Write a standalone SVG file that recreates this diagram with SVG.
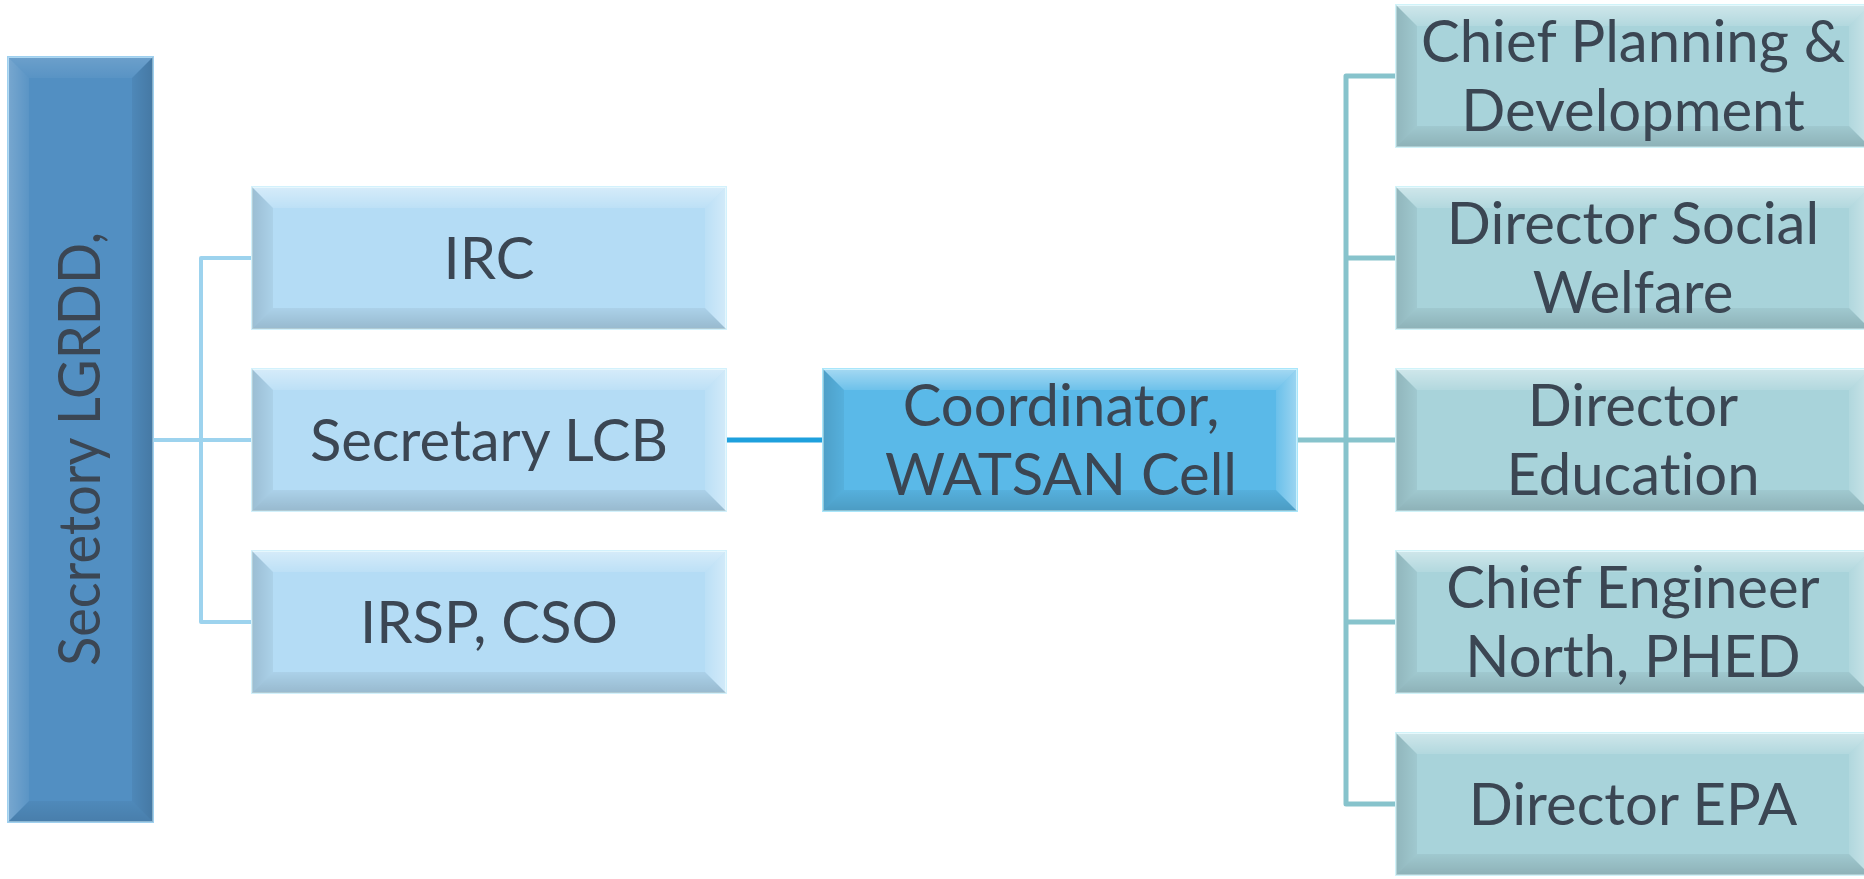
<svg xmlns="http://www.w3.org/2000/svg" width="1864" height="879" viewBox="0 0 1864 879">
<defs>
<linearGradient id="gT" x1="0" y1="0" x2="0" y2="1"><stop offset="0" stop-color="#fff" stop-opacity="0.45"/><stop offset="1" stop-color="#fff" stop-opacity="0.12"/></linearGradient>
<linearGradient id="gR" x1="1" y1="0" x2="0" y2="0"><stop offset="0" stop-color="#fff" stop-opacity="0.4"/><stop offset="1" stop-color="#fff" stop-opacity="0.1"/></linearGradient>
<linearGradient id="gL" x1="0" y1="0" x2="1" y2="0"><stop offset="0" stop-color="#000" stop-opacity="0.14"/><stop offset="1" stop-color="#000" stop-opacity="0.05"/></linearGradient>
<linearGradient id="gB" x1="0" y1="1" x2="0" y2="0"><stop offset="0" stop-color="#000" stop-opacity="0.16"/><stop offset="1" stop-color="#000" stop-opacity="0.05"/></linearGradient>
<linearGradient id="sL" x1="0" y1="0" x2="1" y2="0"><stop offset="0" stop-color="#fff" stop-opacity="0.22"/><stop offset="1" stop-color="#fff" stop-opacity="0.05"/></linearGradient>
<linearGradient id="sT" x1="0" y1="0" x2="0" y2="1"><stop offset="0" stop-color="#fff" stop-opacity="0.15"/><stop offset="1" stop-color="#fff" stop-opacity="0.04"/></linearGradient>
<linearGradient id="sR" x1="1" y1="0" x2="0" y2="0"><stop offset="0" stop-color="#000" stop-opacity="0.16"/><stop offset="1" stop-color="#000" stop-opacity="0.05"/></linearGradient>
<linearGradient id="sB" x1="0" y1="1" x2="0" y2="0"><stop offset="0" stop-color="#000" stop-opacity="0.12"/><stop offset="1" stop-color="#000" stop-opacity="0.04"/></linearGradient>
</defs>
<style>
text{font-family:Lato,"Open Sans",sans-serif;font-size:58px;fill:#3b4653;text-anchor:middle;font-variant-ligatures:none;font-feature-settings:"liga" 0,"dlig" 0}
.sec{fill:#528fc2;stroke:#9fd0ef;stroke-width:2}
.lt{fill:#b4dcf5;stroke:#d2f1fc;stroke-width:2}
.co{fill:#5ab9e8;stroke:#a8e6fb;stroke-width:2}
.rt{fill:#a8d3da;stroke:#d0f3f9;stroke-width:2}
.cl{fill:none;stroke:#9dd3ee;stroke-width:4;stroke-linejoin:round}
.cm{fill:none;stroke:#1ea0dd;stroke-width:5}
.cr{fill:none;stroke:#87c3cc;stroke-width:5;stroke-linejoin:round}
</style>
<g id="connectors">
<path class="cl" d="M153 440 H252 M252 258 H201 V622 H252"/>
<path class="cm" d="M725 440 H823"/>
<path class="cr" d="M1297 440 H1396 M1396 76 H1346 V804 H1396 M1346 258 H1396 M1346 622 H1396"/>
</g>
<g id="secretary-lgrdd">
<rect class="sec" x="8" y="57" width="145" height="765"/>
<polygon fill="url(#sT)" points="8,57 153,57 132,78 29,78"/>
<polygon fill="url(#sL)" points="8,57 29,78 29,801 8,822"/>
<polygon fill="url(#sR)" points="153,57 153,822 132,801 132,78"/>
<polygon fill="url(#sB)" points="8,822 29,801 132,801 153,822"/>
<text transform="translate(100,449) rotate(-90)" textLength="434" lengthAdjust="spacingAndGlyphs">Secretory LGRDD,</text>
</g>
<g id="irc">
<rect class="lt" x="252" y="187" width="474" height="142"/>
<polygon fill="url(#gT)" points="252,187 726,187 705,208 273,208"/>
<polygon fill="url(#gL)" points="252,187 273,208 273,308 252,329"/>
<polygon fill="url(#gR)" points="726,187 726,329 705,308 705,208"/>
<polygon fill="url(#gB)" points="252,329 273,308 705,308 726,329"/>
<text x="489" y="279">IRC</text>
</g>
<g id="secretary-lcb">
<rect class="lt" x="252" y="369" width="474" height="142"/>
<polygon fill="url(#gT)" points="252,369 726,369 705,390 273,390"/>
<polygon fill="url(#gL)" points="252,369 273,390 273,490 252,511"/>
<polygon fill="url(#gR)" points="726,369 726,511 705,490 705,390"/>
<polygon fill="url(#gB)" points="252,511 273,490 705,490 726,511"/>
<text x="489" y="461">Secretary LCB</text>
</g>
<g id="irsp-cso">
<rect class="lt" x="252" y="551" width="474" height="142"/>
<polygon fill="url(#gT)" points="252,551 726,551 705,572 273,572"/>
<polygon fill="url(#gL)" points="252,551 273,572 273,672 252,693"/>
<polygon fill="url(#gR)" points="726,551 726,693 705,672 705,572"/>
<polygon fill="url(#gB)" points="252,693 273,672 705,672 726,693"/>
<text x="489" y="643">IRSP, CSO</text>
</g>
<g id="coordinator">
<rect class="co" x="823" y="369" width="474" height="142"/>
<polygon fill="url(#gT)" points="823,369 1297,369 1276,390 844,390"/>
<polygon fill="url(#gL)" points="823,369 844,390 844,490 823,511"/>
<polygon fill="url(#gR)" points="1297,369 1297,511 1276,490 1276,390"/>
<polygon fill="url(#gB)" points="823,511 844,490 1276,490 1297,511"/>
<text><tspan x="1061" y="426">Coordinator,</tspan><tspan x="1061" y="495">WATSAN Cell</tspan></text>
</g>
<g id="chief-planning">
<rect class="rt" x="1396" y="5" width="474" height="142"/>
<polygon fill="url(#gT)" points="1396,5 1870,5 1849,26 1417,26"/>
<polygon fill="url(#gL)" points="1396,5 1417,26 1417,126 1396,147"/>
<polygon fill="url(#gR)" points="1870,5 1870,147 1849,126 1849,26"/>
<polygon fill="url(#gB)" points="1396,147 1417,126 1849,126 1870,147"/>
<text><tspan x="1633" y="62">Chief Planning &amp;</tspan><tspan x="1633" y="131">Development</tspan></text>
</g>
<g id="director-social-welfare">
<rect class="rt" x="1396" y="187" width="474" height="142"/>
<polygon fill="url(#gT)" points="1396,187 1870,187 1849,208 1417,208"/>
<polygon fill="url(#gL)" points="1396,187 1417,208 1417,308 1396,329"/>
<polygon fill="url(#gR)" points="1870,187 1870,329 1849,308 1849,208"/>
<polygon fill="url(#gB)" points="1396,329 1417,308 1849,308 1870,329"/>
<text><tspan x="1633" y="244">Director Social</tspan><tspan x="1633" y="313">Welfare</tspan></text>
</g>
<g id="director-education">
<rect class="rt" x="1396" y="369" width="474" height="142"/>
<polygon fill="url(#gT)" points="1396,369 1870,369 1849,390 1417,390"/>
<polygon fill="url(#gL)" points="1396,369 1417,390 1417,490 1396,511"/>
<polygon fill="url(#gR)" points="1870,369 1870,511 1849,490 1849,390"/>
<polygon fill="url(#gB)" points="1396,511 1417,490 1849,490 1870,511"/>
<text><tspan x="1633" y="426">Director</tspan><tspan x="1633" y="495">Education</tspan></text>
</g>
<g id="chief-engineer">
<rect class="rt" x="1396" y="551" width="474" height="142"/>
<polygon fill="url(#gT)" points="1396,551 1870,551 1849,572 1417,572"/>
<polygon fill="url(#gL)" points="1396,551 1417,572 1417,672 1396,693"/>
<polygon fill="url(#gR)" points="1870,551 1870,693 1849,672 1849,572"/>
<polygon fill="url(#gB)" points="1396,693 1417,672 1849,672 1870,693"/>
<text><tspan x="1633" y="608">Chief Engineer</tspan><tspan x="1633" y="677">North, PHED</tspan></text>
</g>
<g id="director-epa">
<rect class="rt" x="1396" y="733" width="474" height="142"/>
<polygon fill="url(#gT)" points="1396,733 1870,733 1849,754 1417,754"/>
<polygon fill="url(#gL)" points="1396,733 1417,754 1417,854 1396,875"/>
<polygon fill="url(#gR)" points="1870,733 1870,875 1849,854 1849,754"/>
<polygon fill="url(#gB)" points="1396,875 1417,854 1849,854 1870,875"/>
<text x="1633" y="825">Director EPA</text>
</g>
</svg>
